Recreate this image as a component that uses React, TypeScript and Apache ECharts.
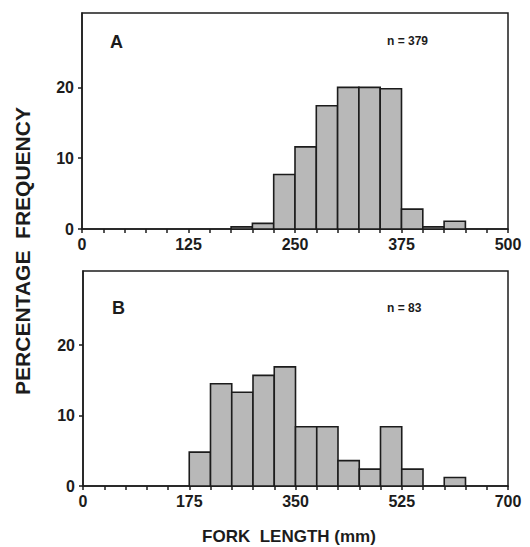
import React, { useEffect, useRef } from "react";
import * as echarts from "echarts";

// Panel A (n = 379), bin width 25 mm
const binStartA = [175, 200, 225, 250, 275, 300, 325, 350, 375, 400, 425];
const freqA = [0.3, 0.8, 7.7, 11.6, 17.4, 20.0, 20.0, 19.8, 2.8, 0.3, 1.1];
const binWidthA = 25;
const xTicksA = [0, 125, 250, 375, 500];

// Panel B (n = 83), bin width 35 mm
const binStartB = [175, 210, 245, 280, 315, 350, 385, 420, 455, 490, 525, 595];
const freqB = [4.8, 14.5, 13.3, 15.7, 16.9, 8.4, 8.4, 3.6, 2.4, 8.4, 2.4, 1.2];
const binWidthB = 35;
const xTicksB = [0, 175, 350, 525, 700];

const yTicks = [0, 10, 20];

const FONT = "'Liberation Sans', Arial, sans-serif";
const INK = "#1c1c1c";

export default function App() {
  const ref = useRef<HTMLDivElement>(null);

  useEffect(() => {
    if (!ref.current) return;
    const chart = echarts.init(ref.current, null, { renderer: "svg" });

    const renderBar = (params: any, api: any) => {
      const x0 = api.value(0);
      const x1 = api.value(1);
      const y = api.value(2);
      const p0 = api.coord([x0, y]);
      const p1 = api.coord([x1, 0]);
      return {
        type: "rect",
        shape: { x: p0[0], y: p0[1], width: p1[0] - p0[0], height: p1[1] - p0[1] },
        style: { fill: "#b8b8b8", stroke: INK, lineWidth: 1.6 },
      };
    };

    const mkX = (gi: number, max: number, step: number, labels: number[]) => ({
      type: "value",
      gridIndex: gi,
      min: 0,
      max,
      interval: step,
      axisLine: { show: true, lineStyle: { color: INK, width: 1.5 } },
      axisTick: { show: true, inside: false, length: 4, lineStyle: { color: INK, width: 1.5 } },
      splitLine: { show: false },
      axisLabel: {
        margin: 7,
        color: INK,
        fontFamily: FONT,
        fontWeight: "bold",
        fontSize: 16,
        formatter: (v: number) => (labels.includes(v) ? String(v) : ""),
      },
    });

    const mkY = (gi: number) => ({
      type: "value",
      gridIndex: gi,
      min: 0,
      max: 30.5,
      axisLine: { show: true, lineStyle: { color: INK, width: 1.5 } },
      axisTick: {
        show: true,
        inside: false,
        length: 4,
        customValues: yTicks,
        lineStyle: { color: INK, width: 1.5 },
      },
      splitLine: { show: false },
      axisLabel: {
        margin: 8,
        color: INK,
        fontFamily: FONT,
        fontWeight: "bold",
        fontSize: 16,
        customValues: yTicks,
      },
    });

    const dataA = binStartA.map((s, i) => [s, s + binWidthA, freqA[i]]);
    const dataB = binStartB.map((s, i) => [s, s + binWidthB, freqB[i]]);

    chart.setOption({
      animation: false,
      grid: [
        { left: 82, top: 13, width: 426, height: 216, show: true, borderColor: INK, borderWidth: 1.5, backgroundColor: "transparent" },
        { left: 83, top: 271, width: 425, height: 215, show: true, borderColor: INK, borderWidth: 1.5, backgroundColor: "transparent" },
      ],
      xAxis: [mkX(0, 500, 25, xTicksA), mkX(1, 700, 35, xTicksB)],
      yAxis: [mkY(0), mkY(1)],
      series: [
        { type: "custom", xAxisIndex: 0, yAxisIndex: 0, renderItem: renderBar, data: dataA, encode: { x: [0, 1], y: 2 } },
        { type: "custom", xAxisIndex: 1, yAxisIndex: 1, renderItem: renderBar, data: dataB, encode: { x: [0, 1], y: 2 } },
      ],
      graphic: [
        { type: "text", left: 110, top: 33, style: { text: "A", font: `bold 18px ${FONT}`, fill: INK } },
        { type: "text", left: 387, top: 35, style: { text: "n = 379", font: `bold 12px ${FONT}`, fill: INK } },
        { type: "text", left: 112, top: 299, style: { text: "B", font: `bold 18px ${FONT}`, fill: INK } },
        { type: "text", left: 387, top: 302, style: { text: "n = 83", font: `bold 12px ${FONT}`, fill: INK } },
        {
          type: "text",
          x: 22,
          y: 251,
          rotation: Math.PI / 2,
          style: {
            text: "PERCENTAGE  FREQUENCY",
            font: `bold 21px ${FONT}`,
            fill: INK,
            align: "center",
            verticalAlign: "middle",
          },
        },
        {
          type: "text",
          x: 289,
          y: 536,
          style: {
            text: "FORK  LENGTH (mm)",
            font: `bold 17px ${FONT}`,
            fill: INK,
            align: "center",
            verticalAlign: "middle",
          },
        },
      ],
    });

    return () => chart.dispose();
  }, []);

  return (
    <div
      ref={ref}
      style={{ position: "absolute", left: 0, top: 0, width: 530, height: 547, background: "#fff" }}
    />
  );
}
